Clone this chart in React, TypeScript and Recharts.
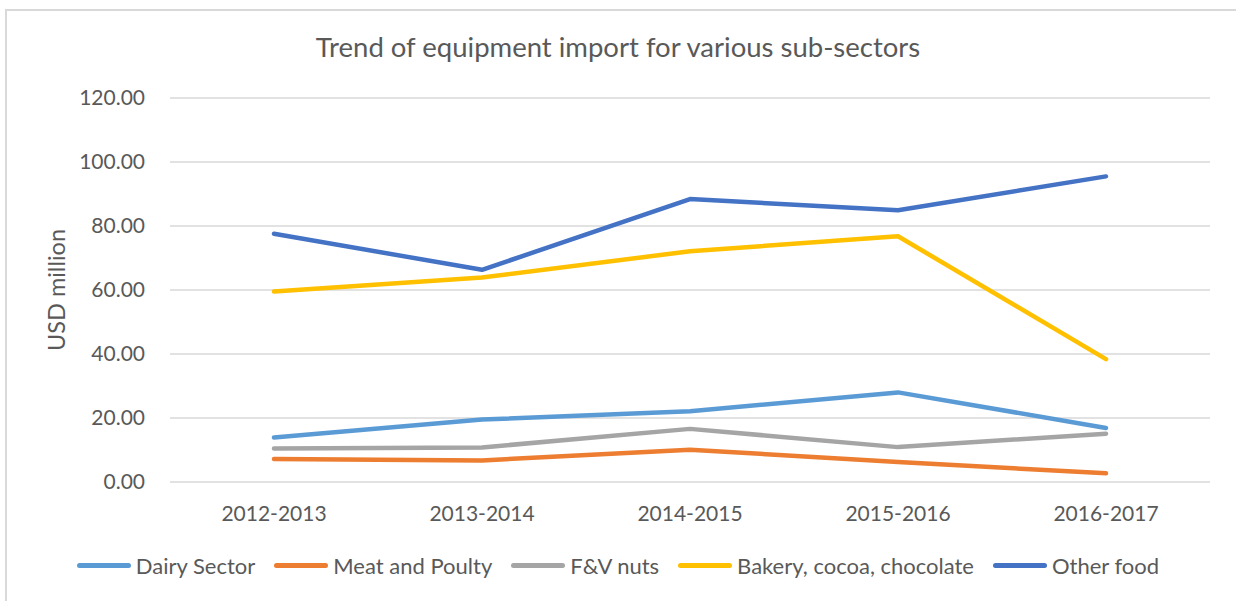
import React from "react";
import { LineChart, Line, XAxis, YAxis, CartesianGrid, Legend } from "recharts";

const years = ["2012-2013", "2013-2014", "2014-2015", "2015-2016", "2016-2017"];
const dairy = [13.9, 19.5, 22.1, 28.0, 16.9];
const meat = [7.2, 6.75, 10.1, 6.25, 2.7];
const fv = [10.5, 10.8, 16.6, 10.9, 15.1];
const bakery = [59.5, 63.9, 72.1, 76.8, 38.4];
const other = [77.6, 66.3, 88.4, 84.9, 95.5];
const yTicks = [0, 20, 40, 60, 80, 100, 120];

const seriesList = [
  { key: "dairy", name: "Dairy Sector", color: "#5B9BD5", values: dairy },
  { key: "meat", name: "Meat and Poulty", color: "#ED7D31", values: meat },
  { key: "fv", name: "F&V nuts", color: "#A5A5A5", values: fv },
  { key: "bakery", name: "Bakery, cocoa, chocolate", color: "#FFC000", values: bakery },
  { key: "other", name: "Other food", color: "#4472C4", values: other },
];

const data = years.map((y, i) => {
  const row: Record<string, string | number> = { year: y };
  seriesList.forEach((s) => (row[s.key] = s.values[i]));
  return row;
});

const FONT = "Lato, 'Open Sans', sans-serif";
const TEXT = "#595959";

const LegendContent = () => (
  <div style={{ display: "flex", justifyContent: "center", alignItems: "center", fontFamily: FONT, fontSize: 22, color: TEXT, height: 30 }}>
    {seriesList.map((s, i) => (
      <div key={s.key} style={{ display: "flex", alignItems: "center", marginRight: i < seriesList.length - 1 ? 19 : 0 }}>
        <div style={{ width: 54, height: 5, borderRadius: 3, background: s.color, marginRight: 5 }} />
        <span>{s.name}</span>
      </div>
    ))}
  </div>
);

export default function App() {
  return (
    <div style={{ position: "absolute", left: 0, top: 0, width: 1236, height: 601, background: "#fff", overflow: "hidden" }}>
      <div style={{ position: "absolute", left: 5, top: 9, width: 1300, height: 700, border: "2px solid #d9d9d9", boxSizing: "border-box" }} />
      <div style={{ position: "absolute", left: 0, top: 30, width: 1236, textAlign: "center", fontFamily: FONT, fontSize: 27.5, color: TEXT }}>
        Trend of equipment import for various sub-sectors
      </div>
      <div style={{ position: "absolute", left: 0, top: 0 }}>
        <LineChart width={1236} height={601} data={data} margin={{ top: 98, right: 26, bottom: 59, left: 0 }}>
          <CartesianGrid vertical={false} stroke="#d9d9d9" strokeWidth={1.5} />
          <XAxis dataKey="year" axisLine={false} tickLine={false} padding={{ left: 104, right: 104 }} tickMargin={18}
            tick={{ fontFamily: FONT, fontSize: 21, fill: TEXT }} />
          <YAxis width={170} domain={[0, 120]} ticks={yTicks} axisLine={false} tickLine={false} tickMargin={19}
            tickFormatter={(v: number) => v.toFixed(2)} tick={{ fontFamily: FONT, fontSize: 21, fill: TEXT }}
            label={{ value: "USD million", angle: -90, position: "insideLeft", offset: 57, style: { fontFamily: FONT, fontSize: 23.5, fill: TEXT, textAnchor: "middle" } }} />
          <Legend content={<LegendContent />} wrapperStyle={{ top: 550, left: 0, width: 1236 }} />
          {seriesList.map((s) => (
            <Line key={s.key} dataKey={s.key} name={s.name} stroke={s.color} strokeWidth={4.5} dot={false}
              strokeLinecap="round" strokeLinejoin="round" isAnimationActive={false} />
          ))}
        </LineChart>
      </div>
    </div>
  );
}
